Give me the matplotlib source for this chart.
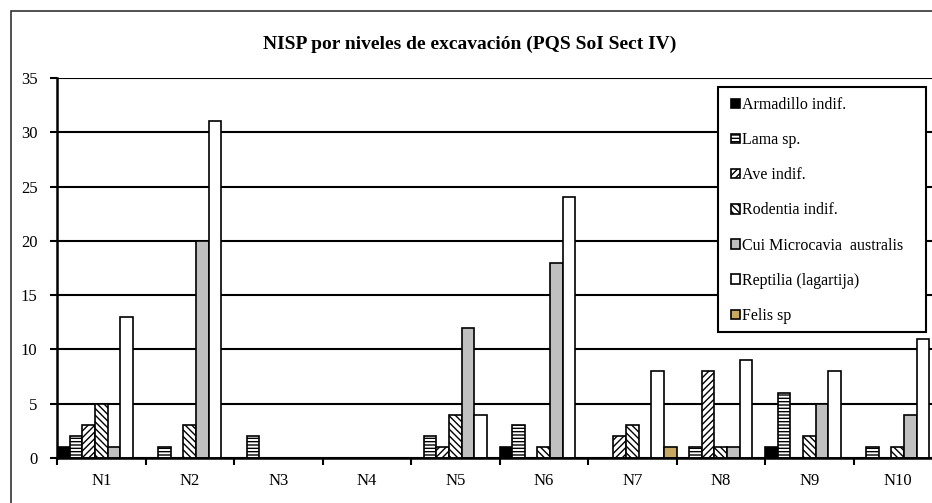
import numpy as np
import matplotlib.pyplot as plt
from matplotlib.patches import Rectangle

plt.rcParams['font.family'] = ['Liberation Serif', 'DejaVu Serif']
plt.rcParams['hatch.linewidth'] = 1.0

niveles = ['N1', 'N2', 'N3', 'N4', 'N5', 'N6', 'N7', 'N8', 'N9', 'N10']
series = ['Armadillo indif.', 'Lama sp.', 'Ave indif.', 'Rodentia indif.',
          'Cui Microcavia  australis', 'Reptilia (lagartija)', 'Felis sp']
armadillo = [1, 0, 0, 0, 0, 1, 0, 0, 1, 0]
lama = [2, 1, 2, 0, 2, 3, 0, 1, 6, 1]
ave = [3, 0, 0, 0, 1, 0, 2, 8, 0, 0]
rodentia = [5, 3, 0, 0, 4, 1, 3, 1, 2, 1]
cui = [1, 20, 0, 0, 12, 18, 0, 1, 5, 4]
reptilia = [13, 31, 0, 0, 4, 24, 8, 9, 8, 11]
felis = [0, 0, 0, 0, 0, 0, 1, 0, 0, 0]
valores = [armadillo, lama, ave, rodentia, cui, reptilia, felis]

colores = ['black', 'white', 'white', 'white', '#c0c0c0', 'white', '#c8a860']
tramas = [None, '-----', '/////', '\\\\\\\\\\', None, None, None]

fig = plt.figure(figsize=(9.32, 5.03), dpi=100)
# borde exterior del grafico
fig.patches.append(Rectangle((11/932, -0.1), 1.0, 1.0 - 11/503 + 0.1,
                             transform=fig.transFigure, fill=False,
                             edgecolor='#333333', lw=1.2))

ax = fig.add_axes([57/932, 45/503, 885/932, 380/503])
x = np.arange(len(niveles))
w = 1.0 / 7
for i, (nombre, vals) in enumerate(zip(series, valores)):
    ax.bar(x - 0.5 + w * (i + 0.5), vals, width=w, color=colores[i],
           hatch=tramas[i], edgecolor='black', linewidth=1.2, label=nombre,
           zorder=3)

ax.set_xlim(-0.5, len(niveles) - 0.5)
ax.set_ylim(0, 35)
ax.set_yticks(range(0, 36, 5))
ax.set_xticks(x)
ax.set_xticklabels(niveles)
ax.set_xticks(np.arange(-0.5, len(niveles), 1), minor=True)
ax.tick_params(axis='x', which='major', length=0, pad=11, labelsize=12)
ax.tick_params(axis='x', which='minor', length=5, width=1.5, direction='out')
ax.tick_params(axis='y', length=5, width=1.5, direction='out', labelsize=12,
               pad=9)
ax.grid(axis='y', color='black', linewidth=1.5, zorder=0)
for s in ['top', 'right']:
    ax.spines[s].set_visible(False)
for s in ['left', 'bottom']:
    ax.spines[s].set_linewidth(1.8)
    ax.spines[s].set_zorder(4)

fig.text(470/932, 1 - 44/503, 'NISP por niveles de excavación (PQS SoI Sect IV)',
         ha='center', va='center', fontsize=14, fontweight='bold')

# marco de la leyenda
ax.add_patch(Rectangle((718/932, 1 - 332/503), 208/932, 245/503,
                       transform=fig.transFigure, clip_on=False,
                       facecolor='white', edgecolor='black', lw=1.5,
                       zorder=4.5))
leg = ax.legend(loc='upper left', bbox_to_anchor=(731/932, 1 - 97/503),
                bbox_transform=fig.transFigure, frameon=False,
                fontsize=11.5, handlelength=0.55,
                handleheight=0.55, handletextpad=0.15, labelspacing=1.2,
                borderpad=0, borderaxespad=0)
leg.set_zorder(5)

fig.savefig('out.png', dpi=100)
